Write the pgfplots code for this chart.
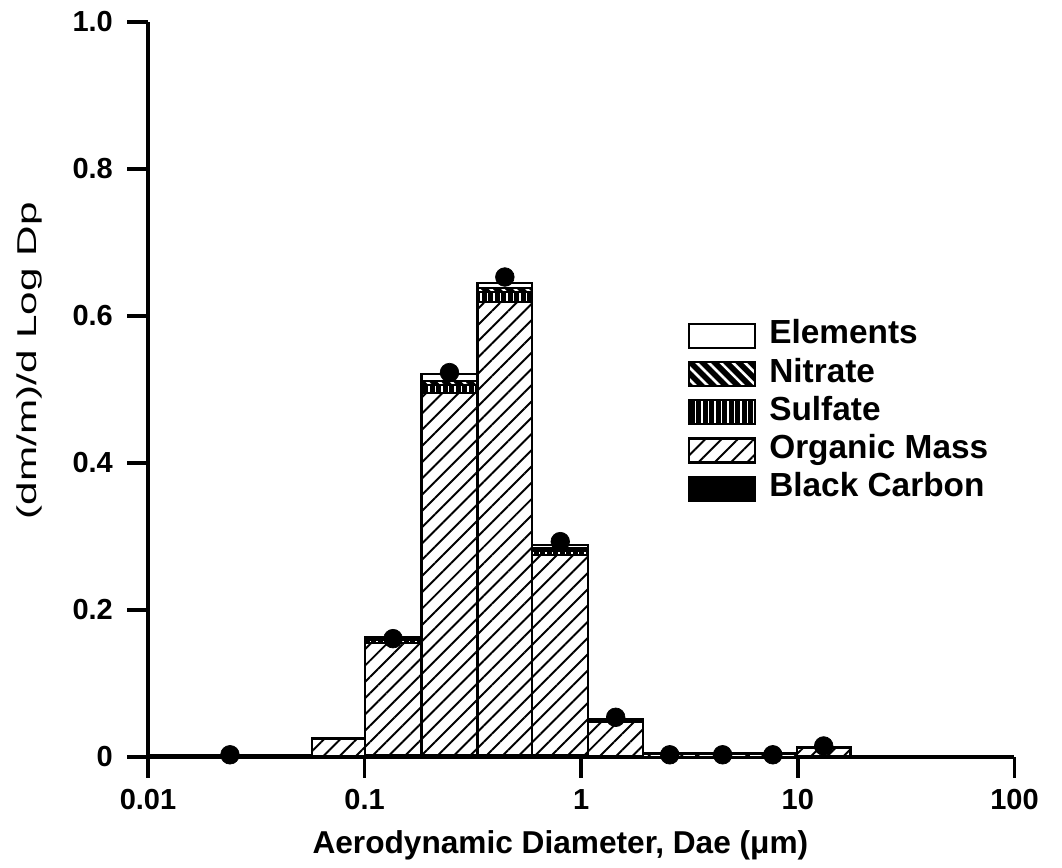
\documentclass[border=0pt]{standalone}
\usepackage{fontspec}
\setmainfont{Liberation Sans}
\usepackage{graphicx}
\usepackage{pgfplots}
\pgfplotsset{compat=1.18}
\usepackage{pgfplotstable}
\usetikzlibrary{patterns.meta}

% MOUDI stage mass fractions, one row per stage (left cut point of each size bin);
% the last row only closes the final interval.
\pgfplotstableread{
x      bc      om      su      ni      el
0.01   0.0005  0.0010  0.0003  0.0002  0.0005
0.057  0.0010  0.0235  0.0005  0.0005  0.0005
0.1    0.0020  0.1530  0.0040  0.0030  0.0010
0.183  0.0030  0.4920  0.0110  0.0050  0.0100
0.332  0.0030  0.6160  0.0140  0.0050  0.0070
0.594  0.0020  0.2730  0.0060  0.0030  0.0040
1.077  0.0010  0.0470  0.0020  0.0010  0.0010
1.93   0.0005  0.0030  0.0005  0.0005  0.0005
3.40   0.0005  0.0030  0.0005  0.0005  0.0005
5.94   0.0005  0.0030  0.0005  0.0005  0.0005
9.89   0.0010  0.0110  0.0005  0.0005  0.0010
17.5   0       0       0       0       0
}\stages

% measured total mass at the geometric mid-point of each stage
\pgfplotstableread{
x       y
0.0239  0.003
0.1353  0.161
0.2465  0.523
0.444   0.653
0.800   0.293
1.442   0.054
2.562   0.003
4.494   0.003
7.665   0.003
13.16   0.015
}\totals

\begin{document}
\begin{tikzpicture}
\useasboundingbox (-2.96,-2.22) rectangle (18.28,15.14);
\begin{axis}[
  scale only axis, width=17.33cm, height=14.7cm,
  xmode=log, xmin=0.01, xmax=100, ymin=0, ymax=1,
  clip=false,
  axis x line*=bottom, axis y line*=left,
  axis line style={line width=2pt, -},
  xtick={0.01,0.1,1,10,100}, xticklabels={0.01,0.1,1,10,100},
  xminorticks=false,
  ytick={0,0.2,0.4,0.6,0.8,1}, yticklabels={0,0.2,0.4,0.6,0.8,1.0},
  tick align=outside, major tick length=0.42cm,
  tick style={line width=2pt, black},
  tick label style={font=\fontsize{16.5}{18}\selectfont\bfseries},
  yticklabel style={xshift=-0.16cm},
  xticklabel style={yshift=-0.1cm},
  xlabel={Aerodynamic Diameter, Dae (μm)},
  xlabel style={font=\fontsize{18}{20}\selectfont\bfseries,
    at={(axis description cs:0.476,-0.12)}, anchor=center},
  ylabel={\scalebox{1.55}[1]{(dm/m)/d Log Dp}},
  ylabel style={font=\fontsize{15.5}{17}\selectfont,
    at={(axis description cs:-0.137,0.539)}, anchor=center},
  every axis plot/.append style={ybar interval, bar interval width=1,
    bar interval shift=0.5, draw=black, line width=1.2pt},
  legend image code/.code={\draw[#1] (0cm,-0.24cm) rectangle (1.32cm,0.24cm);},
  legend cell align=left,
  legend style={at={(rel axis cs:0.623,0.593)}, anchor=north west,
    draw=none, fill=none, inner sep=0pt, column sep=0.26cm, row sep=0.195cm,
    font=\fontsize{19}{21}\selectfont\bfseries,
    nodes={inner sep=0pt, text height=0.45cm, text depth=0.12cm}},
]
% each layer is drawn from zero up to the running sum of the components
% below it, top layer first, so the lower layers cover it
\addplot[fill=white]
  table[x=x, y expr=\thisrow{bc}+\thisrow{om}+\thisrow{su}+\thisrow{ni}+\thisrow{el}] {\stages};
\addlegendentry{Elements}
\addplot[fill=black, postaction={pattern={Lines[angle=-45,distance=0.17cm,line width=1.5pt]}, pattern color=white}]
  table[x=x, y expr=\thisrow{bc}+\thisrow{om}+\thisrow{su}+\thisrow{ni}] {\stages};
\addlegendentry{Nitrate}
\addplot[fill=black, postaction={pattern={Lines[angle=90,distance=0.13cm,line width=0.7pt]}, pattern color=white}]
  table[x=x, y expr=\thisrow{bc}+\thisrow{om}+\thisrow{su}] {\stages};
\addlegendentry{Sulfate}
\addplot[fill=white, postaction={pattern={Lines[angle=45,distance=0.23cm,line width=1.1pt]}}]
  table[x=x, y expr=\thisrow{bc}+\thisrow{om}] {\stages};
\addlegendentry{Organic Mass}
\addplot[fill=black] table[x=x, y=bc] {\stages};
\addlegendentry{Black Carbon}
\end{axis}
\begin{axis}[
  scale only axis, width=17.33cm, height=14.7cm,
  xmode=log, xmin=0.01, xmax=100, ymin=0, ymax=1,
  clip=false, hide axis]
\addplot[only marks, mark=*, mark size=5.3pt, black] table[x=x, y=y] {\totals};
\end{axis}
\end{tikzpicture}
\end{document}
